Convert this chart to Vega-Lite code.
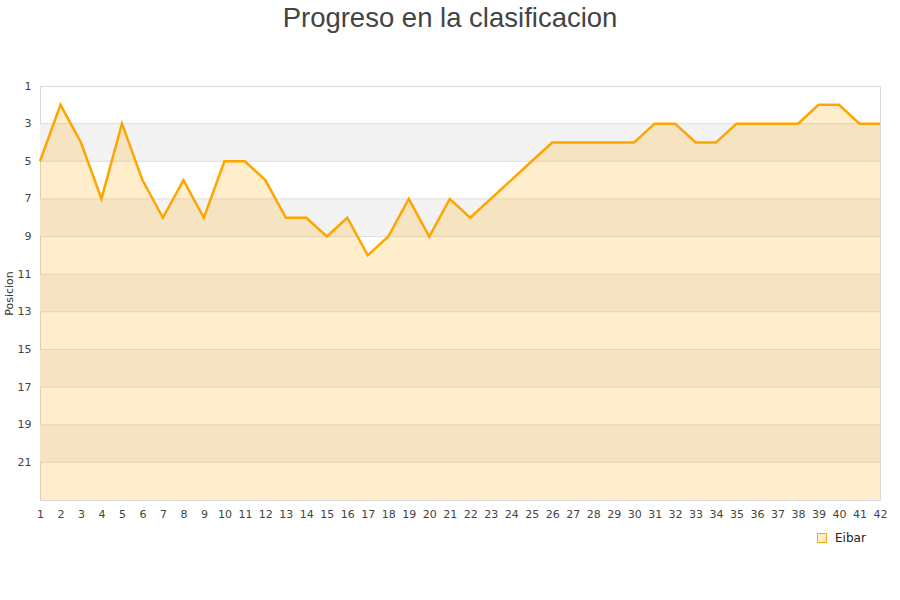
{
  "$schema": "https://vega.github.io/schema/vega-lite/v6.json",
  "width": 840,
  "height": 414,
  "autosize": {"type": "none"},
  "padding": {"left": 40, "top": 86, "right": 20, "bottom": 100},
  "background": "#ffffff",
  "title": {
    "text": "Progreso en la clasificacion",
    "font": "Liberation Sans",
    "fontSize": 27.5,
    "fontWeight": "normal",
    "color": "#444444",
    "anchor": "middle",
    "dx": -10,
    "offset": 48
  },
  "config": {
    "view": {"stroke": "#d9d9d9", "strokeWidth": 1},
    "axis": {
      "labelFont": "DejaVu Sans",
      "labelFontSize": 11,
      "labelColor": "#444444",
      "titleFont": "DejaVu Sans",
      "titleFontSize": 11,
      "titleFontWeight": "normal",
      "titleColor": "#333333",
      "domain": false,
      "ticks": false,
      "grid": false,
      "labelOverlap": false
    },
    "axisX": {"labelOverlap": false, "labelFlush": false, "labelPadding": 8}
  },
  "datasets": {
    "bands": [
      {"desde": 3, "hasta": 5},
      {"desde": 7, "hasta": 9},
      {"desde": 11, "hasta": 13},
      {"desde": 15, "hasta": 17},
      {"desde": 19, "hasta": 21}
    ],
    "grid": [
      {"pos": 3}, {"pos": 5}, {"pos": 7}, {"pos": 9}, {"pos": 11},
      {"pos": 13}, {"pos": 15}, {"pos": 17}, {"pos": 19}, {"pos": 21}
    ],
    "serie": [
      {"jornada": 1, "posicion": 5, "equipo": "Eibar"},
      {"jornada": 2, "posicion": 2, "equipo": "Eibar"},
      {"jornada": 3, "posicion": 4, "equipo": "Eibar"},
      {"jornada": 4, "posicion": 7, "equipo": "Eibar"},
      {"jornada": 5, "posicion": 3, "equipo": "Eibar"},
      {"jornada": 6, "posicion": 6, "equipo": "Eibar"},
      {"jornada": 7, "posicion": 8, "equipo": "Eibar"},
      {"jornada": 8, "posicion": 6, "equipo": "Eibar"},
      {"jornada": 9, "posicion": 8, "equipo": "Eibar"},
      {"jornada": 10, "posicion": 5, "equipo": "Eibar"},
      {"jornada": 11, "posicion": 5, "equipo": "Eibar"},
      {"jornada": 12, "posicion": 6, "equipo": "Eibar"},
      {"jornada": 13, "posicion": 8, "equipo": "Eibar"},
      {"jornada": 14, "posicion": 8, "equipo": "Eibar"},
      {"jornada": 15, "posicion": 9, "equipo": "Eibar"},
      {"jornada": 16, "posicion": 8, "equipo": "Eibar"},
      {"jornada": 17, "posicion": 10, "equipo": "Eibar"},
      {"jornada": 18, "posicion": 9, "equipo": "Eibar"},
      {"jornada": 19, "posicion": 7, "equipo": "Eibar"},
      {"jornada": 20, "posicion": 9, "equipo": "Eibar"},
      {"jornada": 21, "posicion": 7, "equipo": "Eibar"},
      {"jornada": 22, "posicion": 8, "equipo": "Eibar"},
      {"jornada": 23, "posicion": 7, "equipo": "Eibar"},
      {"jornada": 24, "posicion": 6, "equipo": "Eibar"},
      {"jornada": 25, "posicion": 5, "equipo": "Eibar"},
      {"jornada": 26, "posicion": 4, "equipo": "Eibar"},
      {"jornada": 27, "posicion": 4, "equipo": "Eibar"},
      {"jornada": 28, "posicion": 4, "equipo": "Eibar"},
      {"jornada": 29, "posicion": 4, "equipo": "Eibar"},
      {"jornada": 30, "posicion": 4, "equipo": "Eibar"},
      {"jornada": 31, "posicion": 3, "equipo": "Eibar"},
      {"jornada": 32, "posicion": 3, "equipo": "Eibar"},
      {"jornada": 33, "posicion": 4, "equipo": "Eibar"},
      {"jornada": 34, "posicion": 4, "equipo": "Eibar"},
      {"jornada": 35, "posicion": 3, "equipo": "Eibar"},
      {"jornada": 36, "posicion": 3, "equipo": "Eibar"},
      {"jornada": 37, "posicion": 3, "equipo": "Eibar"},
      {"jornada": 38, "posicion": 3, "equipo": "Eibar"},
      {"jornada": 39, "posicion": 2, "equipo": "Eibar"},
      {"jornada": 40, "posicion": 2, "equipo": "Eibar"},
      {"jornada": 41, "posicion": 3, "equipo": "Eibar"},
      {"jornada": 42, "posicion": 3, "equipo": "Eibar"}
    ]
  },
  "layer": [
    {
      "data": {"name": "bands"},
      "mark": {"type": "rect", "color": "#f3f3f3"},
      "encoding": {
        "y": {"field": "desde", "type": "quantitative", "scale": {"domain": [1, 23], "reverse": true, "nice": false, "zero": false},
              "axis": {"values": [1, 3, 5, 7, 9, 11, 13, 15, 17, 19, 21], "title": "Posicion", "labelPadding": 9, "titlePadding": 3}},
        "y2": {"field": "hasta"}
      }
    },
    {
      "data": {"name": "grid"},
      "mark": {"type": "rule", "color": "#dedede", "strokeWidth": 1},
      "encoding": {
        "y": {"field": "pos", "type": "quantitative"}
      }
    },
    {
      "data": {"name": "serie"},
      "mark": {"type": "area", "color": "#ffa500", "opacity": 0.2},
      "encoding": {
        "x": {"field": "jornada", "type": "quantitative", "scale": {"domain": [1, 42], "nice": false, "zero": false},
              "axis": {"values": [1,2,3,4,5,6,7,8,9,10,11,12,13,14,15,16,17,18,19,20,21,22,23,24,25,26,27,28,29,30,31,32,33,34,35,36,37,38,39,40,41,42], "title": null, "labelOverlap": false, "labelFlush": false}},
        "y": {"field": "posicion", "type": "quantitative"},
        "y2": {"datum": 23}
      }
    },
    {
      "data": {"name": "serie"},
      "mark": {"type": "line", "strokeWidth": 2.5},
      "encoding": {
        "x": {"field": "jornada", "type": "quantitative", "axis": {"values": [1,2,3,4,5,6,7,8,9,10,11,12,13,14,15,16,17,18,19,20,21,22,23,24,25,26,27,28,29,30,31,32,33,34,35,36,37,38,39,40,41,42], "title": null, "labelOverlap": false, "labelFlush": false}},
        "y": {"field": "posicion", "type": "quantitative"},
        "color": {
          "field": "equipo", "type": "nominal",
          "scale": {"range": ["#ffa500"]},
          "legend": {
            "title": null,
            "orient": "none",
            "legendX": 776,
            "legendY": 446,
            "symbolType": "square",
            "symbolSize": 81,
            "labelFont": "DejaVu Sans",
            "labelFontSize": 12,
            "labelColor": "#222222",
            "labelOffset": 7,
            "encode": {
              "symbols": {"update": {"fill": {"value": "#ffecc8"}, "stroke": {"value": "#999999"}, "strokeWidth": {"value": 1}}}
            }
          }
        }
      }
    }
  ]
}
